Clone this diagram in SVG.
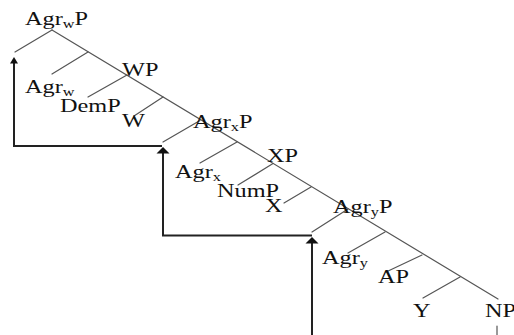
<svg xmlns="http://www.w3.org/2000/svg" width="514" height="335" viewBox="0 0 514 335">
<style>
.lbl{font-family:"Liberation Serif","Times New Roman",serif;font-size:18px;fill:#111;}
.sub{font-size:12px;}
.edge{stroke:#555;stroke-width:1.2;fill:none;stroke-linecap:round;}
.mv{stroke:#222;stroke-width:2;fill:none;}
.head{fill:#111;stroke:none;}
</style>
<rect width="514" height="335" fill="#fff"/>
<g id="connectors">
  <line class="edge" x1="52" y1="30" x2="498" y2="299"/>
  <line class="edge" x1="52" y1="30" x2="15" y2="52"/>
  <line class="edge" x1="88" y1="52" x2="52" y2="74"/>
  <line class="edge" x1="127" y1="75" x2="88" y2="97"/>
  <line class="edge" x1="163" y1="97" x2="134" y2="116"/>
  <line class="edge" x1="200" y1="120.5" x2="163" y2="142"/>
  <line class="edge" x1="237" y1="142" x2="200" y2="163"/>
  <line class="edge" x1="273" y1="163.5" x2="238" y2="185"/>
  <line class="edge" x1="311" y1="187" x2="284" y2="203"/>
  <line class="edge" x1="348" y1="209" x2="312" y2="232"/>
  <line class="edge" x1="385" y1="232" x2="348" y2="253"/>
  <line class="edge" x1="422" y1="255" x2="386" y2="272"/>
  <line class="edge" x1="460" y1="277" x2="423" y2="298"/>
  <line class="edge" x1="497" y1="326" x2="497" y2="336"/>
  <path class="mv" d="M162,146 H14 V62"/>
  <polygon class="head" points="14,57 10,63.5 18,63.5"/>
  <path class="mv" d="M312,235.5 H163 V152"/>
  <polygon class="head" points="163,147 156.5,153.5 169.5,153.5"/>
  <path class="mv" d="M312,336 V242"/>
  <polygon class="head" points="312,237 305.5,243.5 318.5,243.5"/>
</g>
<g id="AgrwP"><text class="lbl" transform="translate(25,25) scale(1.35,1)">Agr<tspan class="sub" dy="3">w</tspan><tspan dy="-3">P</tspan></text></g>
<g id="WP"><text class="lbl" transform="translate(122,76) scale(1.35,1)">WP</text></g>
<g id="Agrw"><text class="lbl" transform="translate(25,93) scale(1.35,1)">Agr<tspan class="sub" dy="3">w</tspan></text></g>
<g id="DemP"><text class="lbl" transform="translate(60,112) scale(1.35,1)">DemP</text></g>
<g id="W"><text class="lbl" transform="translate(122,127) scale(1.35,1)">W</text></g>
<g id="AgrxP"><text class="lbl" transform="translate(193,128) scale(1.35,1)">Agr<tspan class="sub" dy="3">x</tspan><tspan dy="-3">P</tspan></text></g>
<g id="XP"><text class="lbl" transform="translate(267,162) scale(1.35,1)">XP</text></g>
<g id="Agrx"><text class="lbl" transform="translate(175,178) scale(1.35,1)">Agr<tspan class="sub" dy="3">x</tspan></text></g>
<g id="NumP"><text class="lbl" transform="translate(217,197) scale(1.35,1)">NumP</text></g>
<g id="X"><text class="lbl" transform="translate(265,212) scale(1.35,1)">X</text></g>
<g id="AgryP"><text class="lbl" transform="translate(333,213) scale(1.35,1)">Agr<tspan class="sub" dy="3">y</tspan><tspan dy="-3">P</tspan></text></g>
<g id="Agry"><text class="lbl" transform="translate(322,264) scale(1.35,1)">Agr<tspan class="sub" dy="3">y</tspan></text></g>
<g id="AP"><text class="lbl" transform="translate(378,283) scale(1.35,1)">AP</text></g>
<g id="Y"><text class="lbl" transform="translate(413,317) scale(1.35,1)">Y</text></g>
<g id="NP"><text class="lbl" transform="translate(485,317) scale(1.35,1)">NP</text></g>
</svg>
